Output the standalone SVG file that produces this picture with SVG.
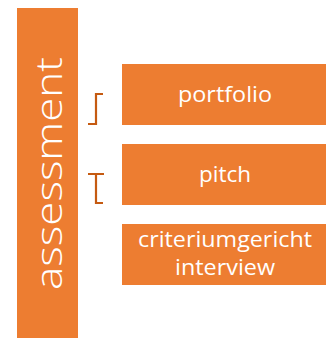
<svg xmlns="http://www.w3.org/2000/svg" width="326" height="338" viewBox="0 0 326 338">
<style>
.box{fill:#ED7D31}
.lbl{fill:#ffffff;font-family:"Open Sans","Liberation Sans",sans-serif;text-anchor:middle}
.br{fill:none;stroke:#C55A11;stroke-width:2.2}
</style>
<g id="assessment">
<rect class="box" x="17" y="8" width="61" height="330"/>
<text class="lbl" font-size="37" font-weight="300" transform="translate(62,173.5) rotate(-90)" x="0" y="0" textLength="233" lengthAdjust="spacingAndGlyphs">assessment</text>
</g>
<g id="portfolio">
<rect class="box" x="122" y="64" width="204" height="61"/>
<text class="lbl" font-size="21" x="225" y="102" textLength="94" lengthAdjust="spacingAndGlyphs">portfolio</text>
</g>
<g id="pitch">
<rect class="box" x="122" y="144" width="204" height="61"/>
<text class="lbl" font-size="21" x="225" y="182" textLength="52" lengthAdjust="spacingAndGlyphs">pitch</text>
</g>
<g id="criteriumgericht">
<rect class="box" x="122" y="224" width="204" height="61"/>
<text class="lbl" font-size="21" x="225" y="247" textLength="174" lengthAdjust="spacingAndGlyphs">criteriumgericht</text>
<text class="lbl" font-size="21" x="225" y="275" textLength="100" lengthAdjust="spacingAndGlyphs">interview</text>
</g>
<g id="connectors">
<path class="br" d="M103,94 H96 V124 H88"/>
<path class="br" d="M88,174 H104 M96,174 V203 H103"/>
</g>
</svg>
